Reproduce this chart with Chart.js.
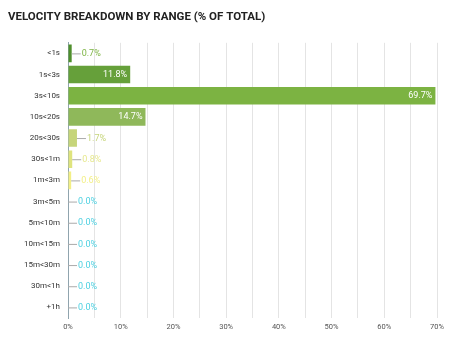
<!DOCTYPE html>
<html>
<head>
<meta charset="utf-8">
<script src="https://cdn.jsdelivr.net/npm/chart.js@4/dist/chart.umd.min.js"></script>
<style>
  html, body { margin: 0; padding: 0; background: #fff; }
  #wrap { width: 468px; height: 358px; }
</style>
</head>
<body>
<div id="wrap"><canvas id="chart"></canvas></div>
<script>
// --- DATA ---
const ranges = ['<1s', '1s<3s', '3s<10s', '10s<20s', '20s<30s', '30s<1m', '1m<3m',
                '3m<5m', '5m<10m', '10m<15m', '15m<30m', '30m<1h', '+1h'];
const percents = [0.7, 11.8, 69.7, 14.7, 1.7, 0.8, 0.6, 0, 0, 0, 0, 0, 0];
const xTicks = [0, 10, 20, 30, 40, 50, 60, 70];

const barColors = ['#4f8f2c', '#66a03a', '#7cb342', '#8fb85a', '#c6d57a', '#dfe47e', '#f3ef86',
                   '#4dd0e1', '#4dd0e1', '#4dd0e1', '#4dd0e1', '#4dd0e1', '#4dd0e1'];
const labelColors = ['#7cb342', '#fff', '#fff', '#fff', '#c6d57a', '#e6e88e', '#f3ef86',
                     '#4dd0e1', '#4dd0e1', '#4dd0e1', '#4dd0e1', '#4dd0e1', '#4dd0e1'];

// labels at bar ends: inside (white) for long bars, outside with a short leader line otherwise
const barLabels = {
  id: 'barLabels',
  afterDatasetsDraw(chart) {
    const ctx = chart.ctx;
    const meta = chart.getDatasetMeta(0);
    ctx.save();
    ctx.font = '9px Roboto';
    ctx.textBaseline = 'middle';
    meta.data.forEach((bar, i) => {
      const txt = percents[i].toFixed(1) + '%';
      const w = bar.x - bar.base;
      if (w > 40) {
        ctx.fillStyle = '#fff';
        ctx.textAlign = 'right';
        ctx.fillText(txt, bar.x - 3, bar.y);
      } else {
        ctx.strokeStyle = '#aaa';
        ctx.lineWidth = 1;
        ctx.beginPath();
        ctx.moveTo(bar.x, bar.y + 0.5);
        ctx.lineTo(bar.x + 9, bar.y + 0.5);
        ctx.stroke();
        ctx.fillStyle = labelColors[i];
        ctx.textAlign = 'left';
        ctx.fillText(txt, bar.x + 10, bar.y + 0.5);
      }
    });
    ctx.restore();
  }
};

new Chart(document.getElementById('chart'), {
  type: 'bar',
  data: {
    labels: ranges,
    datasets: [{
      data: percents,
      backgroundColor: barColors,
      borderWidth: 0,
      barPercentage: 0.83,
      categoryPercentage: 1
    }]
  },
  options: {
    indexAxis: 'y',
    responsive: true,
    maintainAspectRatio: false,
    animation: false,
    layout: { padding: { left: 8, right: 31, top: 0, bottom: 21 } },
    plugins: {
      legend: { display: false },
      tooltip: { enabled: false },
      title: {
        display: true,
        text: 'VELOCITY BREAKDOWN BY RANGE (% OF TOTAL)',
        align: 'start',
        color: '#222',
        font: { family: 'Roboto', size: 11.5, weight: 'bold' },
        padding: { top: 10, bottom: 19 }
      }
    },
    scales: {
      x: {
        min: 0,
        max: 70,
        afterBuildTicks(scale) {
          const t = [];
          for (let v = 0; v <= 70; v += 5) t.push({ value: v });
          scale.ticks = t;
        },
        grid: { color: '#e4e4e4', drawTicks: false },
        border: { display: false },
        ticks: {
          padding: 5,
          color: '#555',
          font: { family: 'Roboto', size: 7.5 },
          autoSkip: false,
          maxRotation: 0,
          callback: v => xTicks.includes(v) ? v + '%' : ''
        }
      },
      y: {
        afterFit(scale) { scale.width = 60; },
        grid: { display: false, drawTicks: false },
        border: { display: true, color: '#90a4ae', width: 1 },
        ticks: {
          padding: 8,
          color: '#333',
          font: { family: 'Roboto', size: 8 }
        }
      }
    }
  },
  plugins: [barLabels]
});
</script>
</body>
</html>
